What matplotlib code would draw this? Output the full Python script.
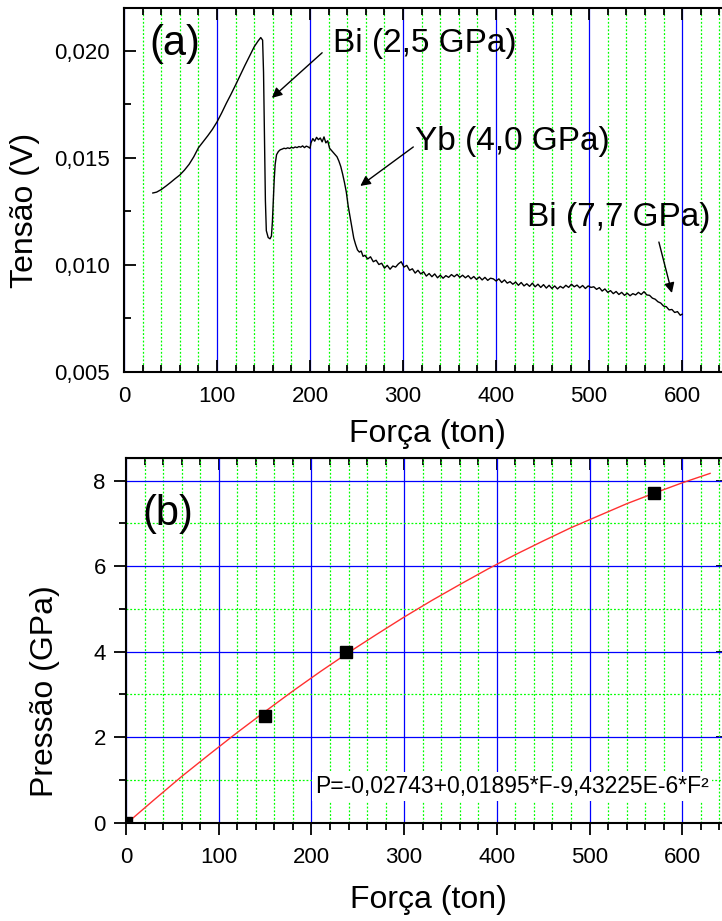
import numpy as np
import matplotlib.pyplot as plt
from matplotlib.ticker import MultipleLocator, FuncFormatter

plt.rcParams['font.family'] = ['Liberation Sans', 'DejaVu Sans']

# (a) voltage trace: force (ton) / tension (V)
force_a = [31, 35, 40, 45, 50, 55, 60, 65, 70, 75, 80, 85, 90, 95, 100, 105,
           110, 115, 120, 125, 130, 135, 140, 144, 147, 149, 150, 151, 152,
           153, 155, 157, 158.5, 159.5, 160.5, 161.5, 162.5, 164, 166, 168,
           170, 172, 174, 176, 178, 180, 182, 184, 186, 188, 190, 192, 194,
           196, 198, 200, 201, 203, 205, 207, 209, 211, 213, 215, 217, 219,
           221, 223, 225, 227, 229, 231, 233, 235, 237, 239, 241, 243, 245,
           247, 249, 251, 253, 255, 257,
           259, 262, 265, 268, 271, 274, 277, 280, 283, 286, 289, 292, 295,
           298, 301, 304, 307, 310, 313, 316, 319, 322, 325, 328, 331, 334,
           337, 340, 343, 346, 349, 352, 355, 358, 361, 364, 367, 370, 373,
           376, 379, 382, 385, 388, 391, 394, 397, 400, 403, 406, 409, 412,
           415, 418, 421, 424, 427, 430, 433, 436, 439, 442, 445, 448, 451,
           454, 457, 460, 463, 466, 469, 472, 475, 478, 481, 484, 487, 490,
           493, 496, 499, 502, 505, 508, 511, 514, 517, 520, 523, 526, 529,
           532, 535, 538, 541, 544, 547, 550, 553, 556, 559, 562, 565, 568,
           571, 574, 577, 580, 583, 586, 589, 592, 595, 598, 600]
tensao_a = [0.01336, 0.01340, 0.01352, 0.01368, 0.01385, 0.01403, 0.01420,
            0.01443, 0.01470, 0.01505, 0.01547, 0.01575, 0.01603, 0.01633,
            0.01668, 0.01710, 0.01755, 0.01797, 0.01841, 0.01887, 0.01932,
            0.01975, 0.02019, 0.02045, 0.02062, 0.02050, 0.01900, 0.01600,
            0.01300, 0.01160, 0.01128, 0.01122, 0.01135, 0.01200, 0.01300,
            0.01400, 0.01470, 0.01515, 0.01530, 0.01538,
            0.01541, 0.01545, 0.01543, 0.01547, 0.01544, 0.01549, 0.01546,
            0.01551, 0.01548, 0.01553, 0.01550, 0.01556, 0.01548, 0.01555,
            0.01551, 0.01545, 0.01570, 0.01590, 0.01578, 0.01596, 0.01585,
            0.01593, 0.01575, 0.01598, 0.01570, 0.01580, 0.01545, 0.01535,
            0.01525, 0.01515, 0.01505, 0.01485, 0.01460, 0.01425, 0.01385,
            0.01340, 0.01275, 0.01225, 0.01175, 0.01125, 0.01095, 0.01070,
            0.01060, 0.01065, 0.01040,
            0.01045, 0.01028, 0.01038, 0.01015, 0.01022, 0.01002, 0.01008,
            0.00985, 0.00998, 0.00980, 0.00995, 0.00990, 0.01005, 0.01015,
            0.00990, 0.00998, 0.00975, 0.00982, 0.00962, 0.00975, 0.00958,
            0.00968, 0.00948, 0.00960, 0.00945, 0.00958, 0.00940, 0.00952,
            0.00938, 0.00950, 0.00942, 0.00955, 0.00945, 0.00956, 0.00942,
            0.00952, 0.00940, 0.00950, 0.00935, 0.00946, 0.00932, 0.00944,
            0.00930, 0.00942, 0.00928, 0.00938, 0.00935, 0.00925, 0.00935,
            0.00918, 0.00930, 0.00915, 0.00922, 0.00910, 0.00920, 0.00905,
            0.00918, 0.00902, 0.00912, 0.00900, 0.00915, 0.00898, 0.00910,
            0.00895, 0.00908, 0.00892, 0.00905, 0.00890, 0.00902, 0.00888,
            0.00900, 0.00892, 0.00905, 0.00895, 0.00910, 0.00898, 0.00906,
            0.00893, 0.00904, 0.00890, 0.00902, 0.00895, 0.00898, 0.00886,
            0.00894, 0.00878, 0.00888, 0.00872, 0.00880, 0.00866, 0.00876,
            0.00862, 0.00872, 0.00858, 0.00868, 0.00856, 0.00866, 0.00860,
            0.00872, 0.00862, 0.00875, 0.00860, 0.00858, 0.00845, 0.00840,
            0.00828, 0.00822, 0.00808, 0.00805, 0.00790, 0.00792, 0.00778,
            0.00782, 0.00765, 0.00770]

# (b) calibration points and fitted curve
force_pts = [0, 150, 237, 570]
pressao_pts = [0, 2.5, 4.0, 7.7]
force_fit = [0, 30, 60, 90, 120, 150, 180, 210, 240, 270, 300, 330, 360,
             390, 420, 450, 480, 510, 540, 570, 600, 630]
pressao_fit = [-0.03, 0.53, 1.08, 1.60, 2.11, 2.60, 3.08, 3.54, 3.98, 4.40,
               4.81, 5.20, 5.57, 5.93, 6.27, 6.59, 6.90, 7.18, 7.46, 7.71,
               7.95, 8.17]

comma = FuncFormatter(lambda v, p: ('%.3f' % v).replace('.', ','))

fig = plt.figure(figsize=(7.22, 9.21), dpi=100)
ax1 = fig.add_axes([124/722, 1 - 372/921, 600/722, 364/921])
ax2 = fig.add_axes([126/722, 1 - 822.7/921, 598/722, 364.7/921])

for ax in (ax1, ax2):
    ax.set_xlim(0, 645)
    ax.xaxis.set_major_locator(MultipleLocator(100))
    ax.xaxis.set_minor_locator(MultipleLocator(20))
    ax.set_axisbelow(True)
    for s in ax.spines.values():
        s.set_linewidth(1.5)
    ax.grid(which='major', axis='x', color='blue', lw=0.9)
    ax.grid(which='minor', axis='x', color='#00ff00', lw=0.9,
            linestyle=(0, (1.5, 1.5)))

# ---- (a)
ax1.plot(force_a, tensao_a, color='black', lw=1.0)
ax1.set_ylim(0.005, 0.022)
ax1.yaxis.set_major_locator(MultipleLocator(0.005))
ax1.yaxis.set_minor_locator(MultipleLocator(0.0025))
ax1.yaxis.set_major_formatter(comma)
ax1.tick_params(which='both', direction='in', top=True, right=False,
                width=1.3, labelsize=16, pad=10)
ax1.tick_params(which='major', length=8.5)
ax1.tick_params(which='minor', length=5)
ax1.set_xlabel('Força (ton)', fontsize=23)
ax1.set_ylabel('Tensão (V)', fontsize=23)
ax1.xaxis.set_label_coords(0.505, -0.13)
ax1.yaxis.set_label_coords(-0.14, 0.445)

ax1.text(27, 0.01981, '(a)', fontsize=30, ha='left', va='baseline')
ax1.text(225, 0.01995, 'Bi (2,5 GPa)', fontsize=24, ha='left', va='baseline')
ax1.text(313, 0.01537, 'Yb (4,0 GPa)', fontsize=24, ha='left', va='baseline')
ax1.text(433, 0.01182, 'Bi (7,7 GPa)', fontsize=24, ha='left', va='baseline')
arrow = dict(arrowstyle='-|>', color='black', lw=1.0, mutation_scale=15,
             shrinkA=0, shrinkB=0)
ax1.annotate('', xy=(159, 0.0178), xytext=(213, 0.01991), arrowprops=arrow)
ax1.annotate('', xy=(254, 0.01369), xytext=(311, 0.01551), arrowprops=arrow)
ax1.annotate('', xy=(589, 0.00869), xytext=(575, 0.01107), arrowprops=arrow)

# ---- (b)
ax2.set_ylim(0, 8.53)
ax2.yaxis.set_major_locator(MultipleLocator(2))
ax2.yaxis.set_minor_locator(MultipleLocator(1))
ax2.grid(which='major', axis='y', color='blue', lw=0.9)
ax2.grid(which='minor', axis='y', color='#00ff00', lw=0.9,
         linestyle=(0, (1.5, 1.5)))
ax2.plot(force_fit, pressao_fit, color='#ff3030', lw=1.0, zorder=3)
ax2.plot(force_pts, pressao_pts, 's', color='black', ms=8.5, zorder=4)
ax2.tick_params(which='both', direction='out', width=1.3, labelsize=16, pad=6)
ax2.tick_params(axis='x', pad=9)
ax2.tick_params(which='major', length=8.5)
ax2.tick_params(which='minor', length=5)
top = ax2.secondary_xaxis('top')
top.xaxis.set_major_locator(MultipleLocator(100))
top.xaxis.set_minor_locator(MultipleLocator(20))
top.tick_params(which='both', direction='in', width=1.3, labeltop=False)
top.tick_params(which='major', length=8.5)
top.tick_params(which='minor', length=5)
right = ax2.secondary_yaxis('right')
right.yaxis.set_major_locator(MultipleLocator(2))
right.yaxis.set_minor_locator(MultipleLocator(1))
right.tick_params(which='both', direction='in', width=1.3, labelright=False)
right.tick_params(which='major', length=6)
right.tick_params(which='minor', length=0)
ax2.set_xlabel('Força (ton)', fontsize=23)
ax2.set_ylabel('Pressão (GPa)', fontsize=23)
ax2.xaxis.set_label_coords(0.505, -0.172)
ax2.yaxis.set_label_coords(-0.11, 0.36)

ax2.text(18, 6.96, '(b)', fontsize=30, ha='left', va='baseline')
ax2.text(204, 0.69, 'P=-0,02743+0,01895*F-9,43225E-6*F²', fontsize=16.5,
         ha='left', va='baseline', zorder=5,
         bbox=dict(facecolor='white', edgecolor='none', pad=2))

fig.savefig('out.png', dpi=100)
